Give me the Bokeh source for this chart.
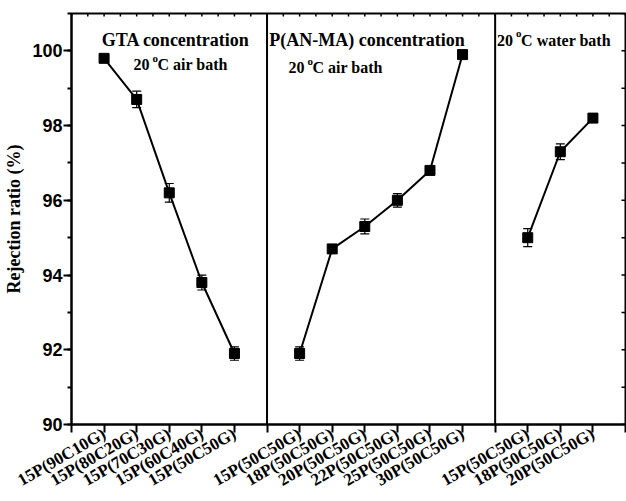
import math

from bokeh.core.properties import value
from bokeh.embed import file_html
from bokeh.models import (ColumnDataSource, FixedTicker, Range1d,
                          SingleIntervalTicker, Span, TeeHead, Whisker)
from bokeh.plotting import figure
from bokeh.resources import INLINE

# Rejection ratio (%) of the membranes, three series of preparations
gta_labels = ["15P(90C10G)", "15P(80C20G)", "15P(70C30G)", "15P(60C40G)", "15P(50C50G)"]
gta_values = [99.8, 98.7, 96.2, 93.8, 91.9]
gta_errors = [0.05, 0.22, 0.25, 0.20, 0.18]

pan_labels = ["15P(50C50G)", "18P(50C50G)", "20P(50C50G)", "22P(50C50G)",
              "25P(50C50G)", "30P(50C50G)"]
pan_values = [91.9, 94.7, 95.3, 96.0, 96.8, 99.9]
pan_errors = [0.18, 0.05, 0.20, 0.18, 0.05, 0.05]

water_labels = ["15P(50C50G)", "18P(50C50G)", "20P(50C50G)"]
water_values = [95.0, 97.3, 98.2]
water_errors = [0.24, 0.21, 0.10]

Y_MIN, Y_MAX = 90, 101

SERIF = value("Liberation Serif")
SANS = "Liberation Sans"

groups = [
    (gta_labels, gta_values, gta_errors),
    (pan_labels, pan_values, pan_errors),
    (water_labels, water_values, water_errors),
]

# lay the groups side by side, one empty slot between neighbouring groups
positions = []
dividers = []
start = 1
for labels, _, _ in groups:
    positions.append(list(range(start, start + len(labels))))
    start += len(labels)
    dividers.append(start)
    start += 1
x_end = dividers[-1]
dividers = dividers[:-1]

p = figure(width=626, height=501, output_backend="svg", toolbar_location=None,
           x_range=Range1d(0, x_end), y_range=Range1d(Y_MIN, Y_MAX),
           min_border_left=71, min_border_right=1, min_border_top=13,
           min_border_bottom=76, background_fill_color="white",
           border_fill_color="white")
p.xgrid.visible = False
p.ygrid.visible = False
p.outline_line_color = "black"
p.outline_line_width = 2

# bottom axis: one tick per slot, labels only under the data points
overrides = {}
for i in range(x_end + 1):
    overrides[i] = ""
for (labels, _, _), xs in zip(groups, positions):
    for x, lab in zip(xs, labels):
        overrides[x] = lab

xa = p.xaxis[0]
xa.ticker = FixedTicker(ticks=list(range(x_end + 1)))
xa.major_label_overrides = overrides
xa.major_label_orientation = math.radians(30)
xa.major_label_text_font = "Liberation Serif"
xa.major_label_text_font_style = "bold"
xa.major_label_text_font_size = "17px"
xa.major_label_text_color = "black"
xa.major_label_standoff = 0
xa.major_tick_out = 8
xa.major_tick_in = 0
xa.minor_tick_out = 0
xa.minor_tick_in = 0
xa.axis_line_width = 2
xa.major_tick_line_width = 2
xa.axis_line_color = "black"
xa.major_tick_line_color = "black"

ya = p.yaxis[0]
ya.ticker = SingleIntervalTicker(interval=2, num_minor_ticks=2)
ya.major_label_text_font = SANS
ya.major_label_text_font_style = "bold"
ya.major_label_text_font_size = "18px"
ya.major_label_text_color = "black"
ya.major_label_standoff = 1
ya.major_tick_out = 8
ya.major_tick_in = 0
ya.minor_tick_out = 4
ya.minor_tick_in = 0
ya.axis_line_width = 2
ya.major_tick_line_width = 2
ya.minor_tick_line_width = 2
ya.axis_line_color = "black"
ya.major_tick_line_color = "black"
ya.minor_tick_line_color = "black"
ya.axis_label = "Rejection ratio (%)"
ya.axis_label_text_font = "Liberation Serif"
ya.axis_label_text_font_style = "bold"
ya.axis_label_text_font_size = "18px"
ya.axis_label_text_color = "black"
ya.axis_label_standoff = 5

# small inward ticks along the right and top edges of the frame
right_src = ColumnDataSource(dict(x=[x_end] * (Y_MAX - Y_MIN + 1),
                                  y=list(range(Y_MIN, Y_MAX + 1))))
p.scatter("x", "y", source=right_src, marker="dash", size=8,
          line_color="black", line_width=1.5)
top_x = [i * 0.5 for i in range(2 * x_end + 1)]
top_src = ColumnDataSource(dict(x=top_x, y=[Y_MAX] * len(top_x)))
p.scatter("x", "y", source=top_src, marker="dash", size=6, angle=math.pi / 2,
          line_color="black", line_width=1.5)

for d in dividers:
    p.add_layout(Span(location=d, dimension="height", line_color="black",
                      line_width=2))

for (labels, vals, errs), xs in zip(groups, positions):
    src = ColumnDataSource(dict(
        x=xs, y=vals,
        lo=[v - e for v, e in zip(vals, errs)],
        hi=[v + e for v, e in zip(vals, errs)],
    ))
    p.add_layout(Whisker(source=src, base="x", lower="lo", upper="hi",
                         line_color="black", line_width=1.2,
                         upper_head=TeeHead(size=9, line_color="black", line_width=1.2),
                         lower_head=TeeHead(size=9, line_color="black", line_width=1.2)))
    p.line("x", "y", source=src, line_color="black", line_width=2)
    p.scatter("x", "y", source=src, marker="square", size=10,
              fill_color="black", line_color="black")

# group titles
p.text(x=[3.2], y=[100.29], text=["GTA concentration"], text_font=SERIF,
       text_font_style="bold", text_font_size="18px", text_align="center",
       text_baseline="alphabetic", text_color="black")
p.text(x=[6.07], y=[100.29], text=["P(AN-MA) concentration"], text_font=SERIF,
       text_font_style="bold", text_font_size="18px", text_align="left",
       text_baseline="alphabetic", text_color="black")


def condition(x, y, rest):
    # "20 °C ..." with a raised small o as the degree sign
    p.text(x=[x], y=[y], text=["20"], text_font=SERIF, text_font_style="bold",
           text_font_size="16px", text_baseline="alphabetic", text_color="black")
    p.text(x=[x], y=[y], text=["o"], text_font=SERIF, text_font_style="bold",
           text_font_size="11px", text_baseline="alphabetic", text_color="black",
           x_offset=19, y_offset=-7)
    p.text(x=[x], y=[y], text=[rest], text_font=SERIF, text_font_style="bold",
           text_font_size="16px", text_baseline="alphabetic", text_color="black",
           x_offset=24)


condition(1.90, 99.625, "C air bath")
condition(6.66, 99.545, "C air bath")
condition(13.06, 100.29, "C water bath")

open("out.html", "w").write(file_html(p, INLINE))
